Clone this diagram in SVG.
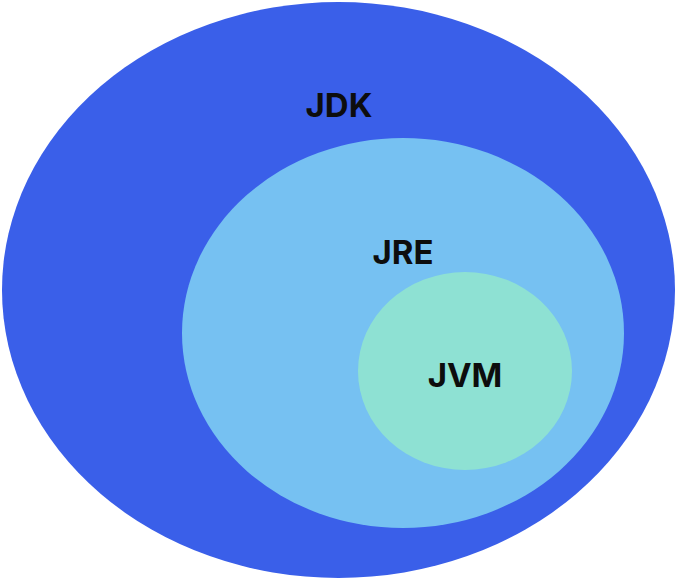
<svg xmlns="http://www.w3.org/2000/svg" width="676" height="580" viewBox="0 0 676 580">
<style>
.lbl{font-family:Inter,"Liberation Sans",Arial,sans-serif;font-weight:700;font-size:33px;fill:#0d0d0d;text-anchor:middle}
</style>
<rect width="676" height="580" fill="#ffffff"/>
<g id="jdk">
<ellipse cx="338.5" cy="290" rx="336.5" ry="288" fill="#3a5fe9"/>
<text class="lbl" x="339" y="117">JDK</text>
</g>
<g id="jre">
<ellipse cx="403" cy="333" rx="221" ry="195" fill="#76c1f2"/>
<text class="lbl" x="403" y="264">JRE</text>
</g>
<g id="jvm">
<ellipse cx="465" cy="371" rx="107" ry="99" fill="#8ee1d3"/>
<text class="lbl" x="465" y="387">JVM</text>
</g>
<g id="connectors"></g>
</svg>
